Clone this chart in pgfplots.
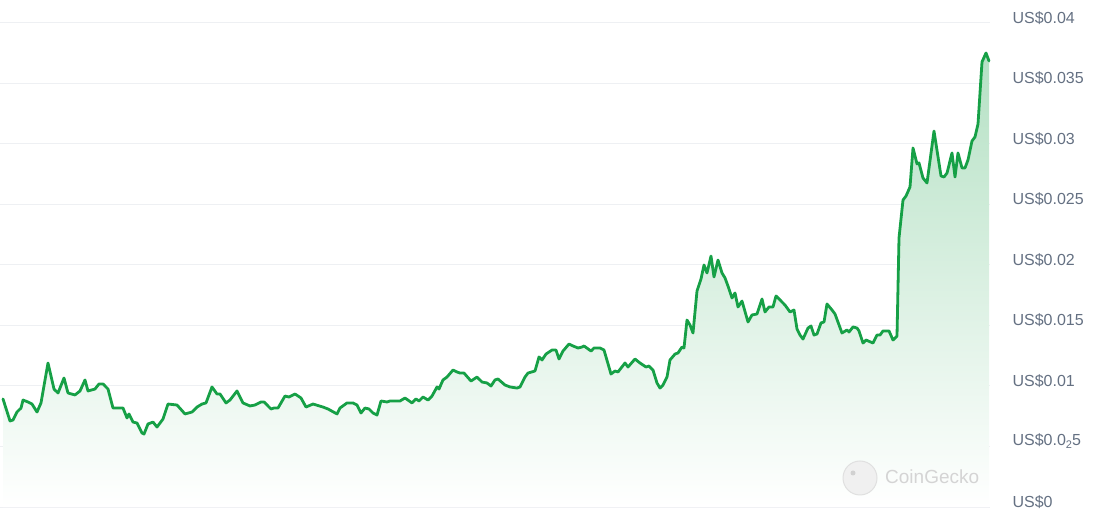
\documentclass[border=0pt]{standalone}
\usepackage{pgfplots}
\pgfplotsset{compat=1.18}
\usepackage{pgfplotstable}
\usepackage{fontspec}
\setmainfont{Liberation Sans}
\definecolor{cgGreen}{RGB}{22,160,70}
\definecolor{cgLabel}{RGB}{100,112,130}
\definecolor{cgGrid}{RGB}{238,240,243}
\definecolor{cgMark}{RGB}{212,212,212}

\pgfplotstableread{
x y
3 0.00893
10 0.00711
13 0.00719
17 0.00785
21 0.00818
23 0.00884
28 0.00868
32 0.00851
37 0.00785
41 0.00860
48 0.01190
54 0.00975
58 0.00942
64 0.01066
68 0.00942
75 0.00926
80 0.00959
85 0.01050
88 0.00959
95 0.00975
99 0.01017
103 0.01017
108 0.00975
113 0.00818
123 0.00818
127 0.00736
129 0.00769
133 0.00702
137 0.00694
142 0.00612
144 0.00603
148 0.00686
153 0.00702
157 0.00661
163 0.00727
168 0.00851
177 0.00843
185 0.00769
192 0.00785
197 0.00826
202 0.00851
206 0.00860
212 0.00992
217 0.00934
220 0.00934
226 0.00860
230 0.00884
237 0.00959
243 0.00860
250 0.00835
255 0.00843
261 0.00868
264 0.00868
271 0.00810
274 0.00818
278 0.00818
285 0.00917
289 0.00909
295 0.00934
301 0.00901
306 0.00826
313 0.00851
323 0.00826
328 0.00810
337 0.00769
340 0.00818
347 0.00860
353 0.00860
357 0.00843
361 0.00777
365 0.00818
369 0.00810
373 0.00777
377 0.00760
381 0.00876
387 0.00868
390 0.00876
395 0.00876
400 0.00876
405 0.00901
412 0.00860
416 0.00893
419 0.00876
423 0.00909
428 0.00884
432 0.00917
437 0.00992
439 0.00975
443 0.01050
447 0.01074
453 0.01132
457 0.01116
460 0.01107
464 0.01107
471 0.01041
477 0.01074
482 0.01033
487 0.01025
491 0.01000
495 0.01050
498 0.01058
505 0.01008
510 0.00992
517 0.00983
520 0.00992
525 0.01074
528 0.01107
535 0.01124
539 0.01240
542 0.01215
546 0.01264
552 0.01297
556 0.01297
559 0.01223
563 0.01289
569 0.01347
573 0.01331
578 0.01314
582 0.01322
584 0.01331
591 0.01289
594 0.01314
600 0.01314
604 0.01297
611 0.01099
615 0.01124
618 0.01116
625 0.01190
628 0.01157
635 0.01223
640 0.01190
646 0.01157
649 0.01165
653 0.01132
657 0.01025
660 0.00983
663 0.01008
667 0.01074
670 0.01215
675 0.01264
678 0.01273
682 0.01322
684 0.01314
687 0.01545
690 0.01504
693 0.01438
697 0.01785
701 0.01884
704 0.02000
707 0.01934
711 0.02074
714 0.01901
718 0.02041
722 0.01934
725 0.01893
728 0.01826
732 0.01727
735 0.01769
738 0.01653
742 0.01702
748 0.01529
752 0.01587
757 0.01595
762 0.01719
765 0.01612
769 0.01653
773 0.01653
776 0.01744
780 0.01711
785 0.01669
790 0.01612
794 0.01628
797 0.01471
800 0.01421
803 0.01388
808 0.01479
811 0.01496
814 0.01421
817 0.01430
821 0.01521
824 0.01529
827 0.01678
832 0.01628
835 0.01595
842 0.01438
847 0.01463
849 0.01446
853 0.01488
857 0.01479
859 0.01455
863 0.01355
866 0.01380
873 0.01355
877 0.01421
880 0.01421
883 0.01455
889 0.01455
893 0.01380
897 0.01413
899 0.02223
903 0.02537
906 0.02570
910 0.02645
913 0.02967
917 0.02835
919 0.02843
923 0.02719
927 0.02678
934 0.03107
941 0.02736
944 0.02727
947 0.02760
952 0.02926
955 0.02727
958 0.02926
962 0.02802
965 0.02802
968 0.02868
972 0.03025
975 0.03058
978 0.03165
982 0.03678
986 0.03752
989 0.03686
}\pricedata

\begin{document}
\begin{tikzpicture}[x=1pt,y=1pt]
\path[use as bounding box] (0,0) rectangle (1096,511);
\begin{axis}[
  at={(0,0)}, anchor=south west,
  scale only axis, width=990pt, height=511pt,
  xmin=0, xmax=990, ymin=-0.00033, ymax=0.0419,
  axis line style={draw=none},
  xtick=\empty,
  ytick={0,0.005,0.01,0.015,0.02,0.025,0.03,0.035,0.04},
  yticklabels={US\$0, US\$0.0\raisebox{-3pt}{\fontsize{11}{11}\selectfont 2}5, US\$0.01, US\$0.015, US\$0.02, US\$0.025, US\$0.03, US\$0.035, US\$0.04},
  scaled y ticks=false,
  major tick length=0pt,
  yticklabel pos=right,
  yticklabel style={anchor=west, font=\fontsize{16}{19}\selectfont, text=cgLabel, xshift=19pt, yshift=5pt},
  ymajorgrids, grid style={cgGrid, line width=1pt},
  clip=false,
]
\addplot[draw=none, top color=cgGreen!32, bottom color=white] table[x=x,y=y] {\pricedata} \closedcycle;
\addplot[cgGreen, line width=2.8pt, line join=round, line cap=round] table[x=x,y=y] {\pricedata};
\end{axis}
\filldraw[fill=white!94!black, draw=white!88!black, line width=1pt] (860,33) circle (17);
\fill[white!82!black] (853,38) circle (2.5);
\node[anchor=west, text=cgMark, font=\fontsize{19}{22}\selectfont, inner sep=0pt] at (885,34) {CoinGecko};
\end{tikzpicture}
\end{document}
